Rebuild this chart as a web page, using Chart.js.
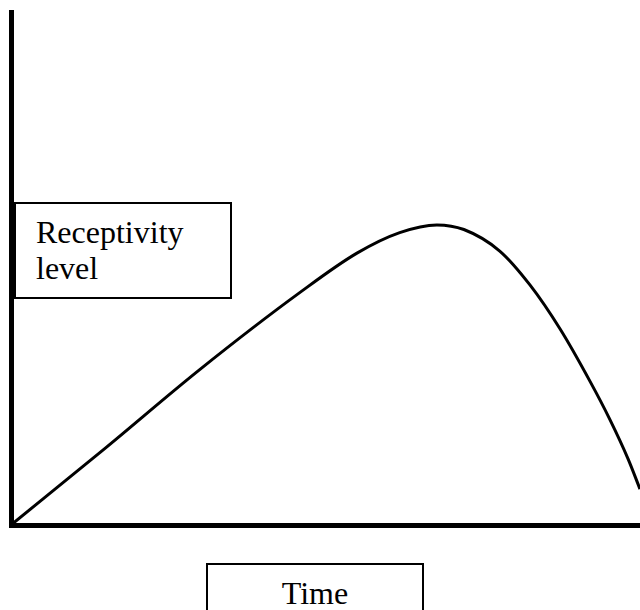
<!DOCTYPE html>
<html>
<head>
<meta charset="utf-8">
<script src="https://cdn.jsdelivr.net/npm/chart.js@4"></script>
<style>
body{margin:0;background:#fff;}
#wrap{position:relative;width:640px;height:610px;overflow:hidden;}
.box{position:absolute;background:#fff;border:2px solid #000;box-sizing:border-box;
font-family:"Liberation Serif","Times New Roman",serif;font-size:32px;color:#000;}
#ylab{left:14px;top:202px;width:218px;height:97px;padding:10px 0 0 20px;line-height:36px;}
#xlab{left:206px;top:563px;width:218px;height:70px;text-align:center;padding-top:10px;line-height:36px;}
</style>
</head>
<body>
<div id="wrap">
<canvas id="curveChart" width="640" height="610"></canvas>
<div class="box" id="ylab">Receptivity<br>level</div>
<div class="box" id="xlab">Time</div>
</div>
<script>
// curve (time 0-100, level 0-100)
let time = [0, 15, 30, 45.9, 55, 61.8, 67.7, 72, 77.7, 82.5, 87.3, 92.1, 95.2, 98.1, 100];
let level = [0, 15, 30.3, 45.3, 53, 57, 58.5, 57.6, 53.4, 46.8, 38.2, 27.9, 20.6, 12.9, 7];

let pts = time.map((t, i) => ({x: t, y: level[i]}));

new Chart(document.getElementById("curveChart"), {
  type: 'line',
  data: {
    datasets: [{
      data: pts,
      borderColor: '#000',
      borderWidth: 3,
      pointRadius: 0,
      cubicInterpolationMode: 'monotone',
      fill: false
    }]
  },
  options: {
    responsive: false,
    animation: false,
    layout: {padding: {left: 11, top: 12, right: 0, bottom: 85}},
    plugins: {legend: {display: false}, tooltip: {enabled: false}},
    scales: {
      x: {
        type: 'linear', min: 0, max: 100,
        grid: {display: false, drawTicks: false},
        ticks: {display: false},
        border: {display: true, color: '#000', width: 5}
      },
      y: {
        min: 0, max: 100,
        grid: {display: false, drawTicks: false},
        ticks: {display: false},
        border: {display: true, color: '#000', width: 5}
      }
    }
  }
});
</script>
</body>
</html>
